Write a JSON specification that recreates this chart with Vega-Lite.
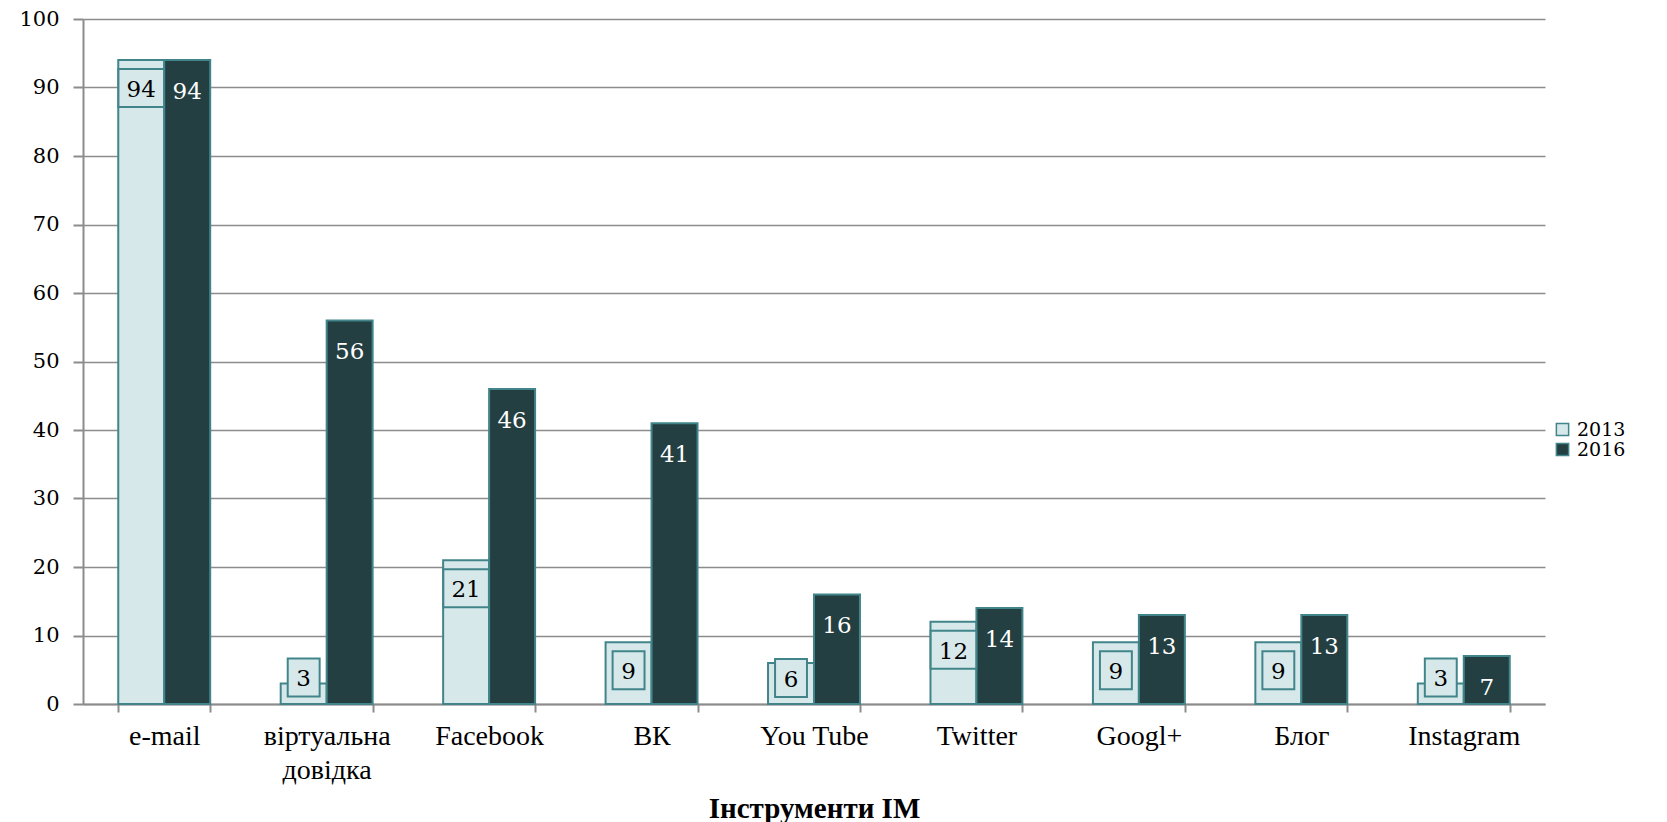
{
  "$schema": "https://vega.github.io/schema/vega-lite/v6.json",
  "width": 1462,
  "height": 685,
  "autosize": {"type": "none"},
  "padding": {"left": 83, "top": 19, "right": 122, "bottom": 118},
  "background": "white",
  "config": {
    "view": {"stroke": null},
    "font": "DejaVu Serif"
  },
  "data": {
    "values": [
      {"tool": "e-mail", "year": "2013", "v": 94},
      {"tool": "e-mail", "year": "2016", "v": 94},
      {"tool": "віртуальна довідка", "year": "2013", "v": 3},
      {"tool": "віртуальна довідка", "year": "2016", "v": 56},
      {"tool": "Facebook", "year": "2013", "v": 21},
      {"tool": "Facebook", "year": "2016", "v": 46},
      {"tool": "ВК", "year": "2013", "v": 9},
      {"tool": "ВК", "year": "2016", "v": 41},
      {"tool": "You Tube", "year": "2013", "v": 6},
      {"tool": "You Tube", "year": "2016", "v": 16},
      {"tool": "Twitter", "year": "2013", "v": 12},
      {"tool": "Twitter", "year": "2016", "v": 14},
      {"tool": "Googl+", "year": "2013", "v": 9},
      {"tool": "Googl+", "year": "2016", "v": 13},
      {"tool": "Блог", "year": "2013", "v": 9},
      {"tool": "Блог", "year": "2016", "v": 13},
      {"tool": "Instagram", "year": "2013", "v": 3},
      {"tool": "Instagram", "year": "2016", "v": 7}
    ]
  },
  "encoding": {
    "x": {
      "field": "tool",
      "type": "nominal",
      "sort": null,
      "scale": {"paddingInner": 0.434, "paddingOuter": 0.217},
      "axis": {
        "title": "Інструменти ІМ",
        "titleFont": "Liberation Serif",
        "titleFontSize": 29,
        "titleFontWeight": "bold",
        "titleColor": "black",
        "titlePadding": 10,
        "labelFont": "Liberation Serif",
        "labelFontSize": 28,
        "labelColor": "black",
        "labelAngle": 0,
        "labelPadding": 10,
        "labelLineHeight": 34,
        "labelExpr": "datum.label == 'віртуальна довідка' ? ['віртуальна', 'довідка'] : datum.label",
        "tickBand": "extent",
        "tickSize": 8,
        "tickColor": "#8c8c8c",
        "tickWidth": 2,
        "domainColor": "#8c8c8c",
        "domainWidth": 2,
        "grid": false
      }
    },
    "xOffset": {"field": "year", "type": "nominal", "scale": {"paddingInner": 0, "paddingOuter": 0}},
    "y": {
      "field": "v",
      "type": "quantitative",
      "scale": {"domain": [0, 100], "nice": false, "zero": true},
      "axis": {
        "title": null,
        "values": [0, 10, 20, 30, 40, 50, 60, 70, 80, 90, 100],
        "labelFont": "DejaVu Serif",
        "labelFontSize": 21,
        "labelColor": "black",
        "labelPadding": 14,
        "tickSize": 10,
        "tickColor": "#8c8c8c",
        "tickWidth": 2,
        "domainColor": "#8c8c8c",
        "domainWidth": 2,
        "grid": true,
        "gridColor": "#8c8c8c",
        "gridWidth": 1.7
      }
    }
  },
  "layer": [
    {
      "mark": {"type": "bar", "stroke": "#41858a", "strokeWidth": 2},
      "encoding": {
        "fill": {
          "field": "year",
          "type": "nominal",
          "scale": {"domain": ["2013", "2016"], "range": ["#d6e8ea", "#243f42"]},
          "legend": {
            "title": null,
            "orient": "none",
            "legendX": 1470,
            "legendY": 401,
            "symbolType": "square",
            "symbolSize": 150,
            "symbolStrokeColor": "#41858a",
            "symbolStrokeWidth": 1.5,
            "labelFont": "DejaVu Serif",
            "labelFontSize": 19,
            "labelColor": "black",
            "labelOffset": 5,
            "rowPadding": 0
          }
        }
      }
    },
    {
      "transform": [{"filter": "datum.year == '2013'"}],
      "mark": {
        "type": "point",
        "filled": true,
        "fill": "#d6e8ea",
        "stroke": "#41858a",
        "strokeWidth": 2,
        "opacity": 1,
        "size": 1444,
        "shape": {"expr": "datum.v >= 10 ? 'M-1.2,-1L1.2,-1L1.2,1L-1.2,1Z' : 'M-0.84,-1L0.84,-1L0.84,1L-0.84,1Z'"},
        "yOffset": {"expr": "datum.v < 5 ? -6 : (datum.v < 8 ? 15 : 28)"}
      }
    },
    {
      "transform": [{"filter": "datum.year == '2013'"}],
      "mark": {
        "type": "text",
        "font": "DejaVu Serif",
        "fontSize": 23,
        "color": "black",
        "baseline": "middle",
        "dy": {"expr": "datum.v < 5 ? -4 : (datum.v < 8 ? 17 : 30)"}
      },
      "encoding": {"text": {"field": "v", "type": "quantitative"}}
    },
    {
      "transform": [{"filter": "datum.year == '2016'"}],
      "mark": {
        "type": "text",
        "font": "DejaVu Serif",
        "fontSize": 23,
        "color": "white",
        "baseline": "middle",
        "dy": 32
      },
      "encoding": {"text": {"field": "v", "type": "quantitative"}}
    }
  ]
}
